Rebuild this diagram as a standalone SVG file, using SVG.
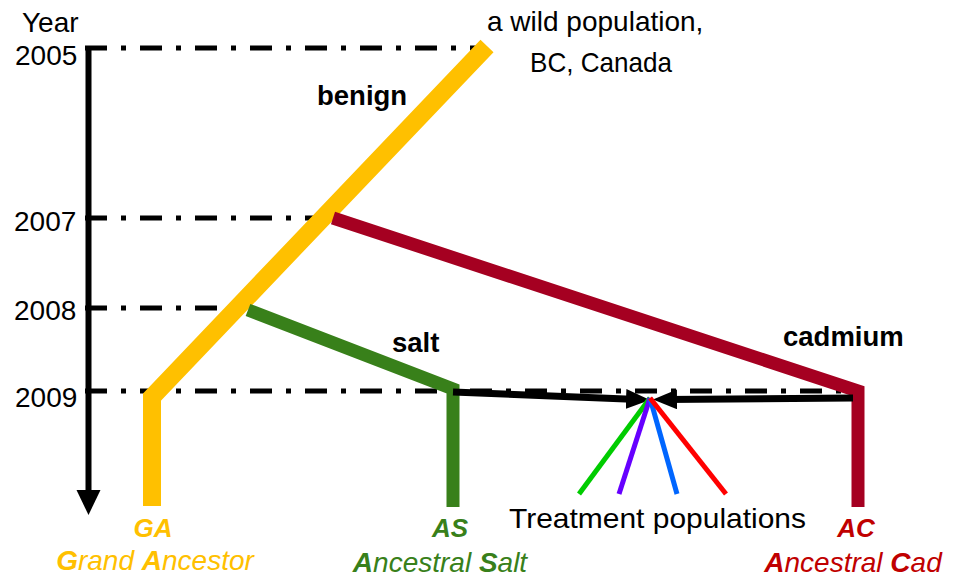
<svg xmlns="http://www.w3.org/2000/svg" width="956" height="580" viewBox="0 0 956 580">
<style>
text{font-family:"Liberation Sans",Arial,sans-serif;}
.lab{font-size:28px;fill:#000;}
.b{font-weight:bold;font-size:27.5px;}
.dd{stroke:#000;stroke-width:5;stroke-dasharray:22 14 5 14;fill:none;}
.arr{stroke:#000;stroke-width:7;fill:none;}
.ab{font-weight:bold;font-style:italic;font-size:26px;}
.an{font-style:italic;font-size:28px;}
</style>
<defs>
<marker id="ah" viewBox="0 0 24 20" refX="12" refY="10" markerWidth="24" markerHeight="20" markerUnits="userSpaceOnUse" orient="auto">
<path d="M0,0 L24,10 L0,20 z" fill="#000"/>
</marker>
</defs>
<rect width="956" height="580" fill="#fff"/>
<g id="axis">
<text class="lab" x="22" y="32">Year</text>
<text class="lab" x="15" y="65">2005</text>
<text class="lab" x="14" y="231">2007</text>
<text class="lab" x="14" y="320">2008</text>
<text class="lab" x="15" y="407">2009</text>
<path d="M88.5,46 L88.5,494" stroke="#000" stroke-width="6"/>
<path d="M76.5,490 L88.5,515 L100.5,490 z" fill="#000"/>
</g>
<g id="gridlines">
<path class="dd" d="M85,48 L485,48"/>
<path class="dd" d="M85,218 L333,218"/>
<path class="dd" d="M85,308 L248,308"/>
<path class="dd" d="M85,391 L862,391"/>
</g>
<g id="lineage-benign">
<path d="M487,46 L152,397 L152,506" stroke="#FFC000" stroke-width="18" fill="none" stroke-linejoin="miter"/>
<text class="b" x="317" y="105">benign</text>
</g>
<g id="lineage-cadmium">
<path d="M333,218 L858,391 L858,507" stroke="#A50021" stroke-width="13" fill="none"/>
<text class="b" x="783" y="346">cadmium</text>
</g>
<g id="lineage-salt">
<path d="M248,310 L453,389 L453,507" stroke="#38801A" stroke-width="13" fill="none"/>
<text class="b" x="392" y="352">salt</text>
</g>
<g id="connectors">
<path class="arr" d="M453,392 L638,399.5" marker-end="url(#ah)"/>
<path class="arr" d="M853,398 L665,399.5" marker-end="url(#ah)"/>
</g>
<g id="treatment">
<g stroke-width="5" fill="none">
<path d="M650,398 L579,494" stroke="#00CC00"/>
<path d="M650,398 L619,494" stroke="#6600FF"/>
<path d="M650,398 L677,494" stroke="#0066FF"/>
<path d="M650,398 L726,494" stroke="#FF0000"/>
</g>
<text class="lab" x="509" y="528" textLength="297" lengthAdjust="spacingAndGlyphs">Treatment populations</text>
</g>
<g id="source">
<text class="lab" x="487" y="31">a wild population,</text>
<text class="lab" x="530" y="72" textLength="142" lengthAdjust="spacingAndGlyphs">BC, Canada</text>
</g>
<g id="GA">
<text class="ab" x="153" y="537" text-anchor="middle" fill="#FFC000">GA</text>
<text class="an" x="155" y="570" text-anchor="middle" fill="#FFC000"><tspan font-weight="bold">G</tspan>rand <tspan font-weight="bold">A</tspan>ncestor</text>
</g>
<g id="AS">
<text class="ab" x="450" y="537" text-anchor="middle" fill="#38801A">AS</text>
<text class="an" x="440" y="572" text-anchor="middle" fill="#38801A"><tspan font-weight="bold">A</tspan>ncestral <tspan font-weight="bold">S</tspan>alt</text>
</g>
<g id="AC">
<text class="ab" x="856" y="537" text-anchor="middle" fill="#C00000">AC</text>
<text class="an" x="853" y="572" text-anchor="middle" fill="#C00000"><tspan font-weight="bold">A</tspan>ncestral <tspan font-weight="bold">C</tspan>ad</text>
</g>
</svg>
